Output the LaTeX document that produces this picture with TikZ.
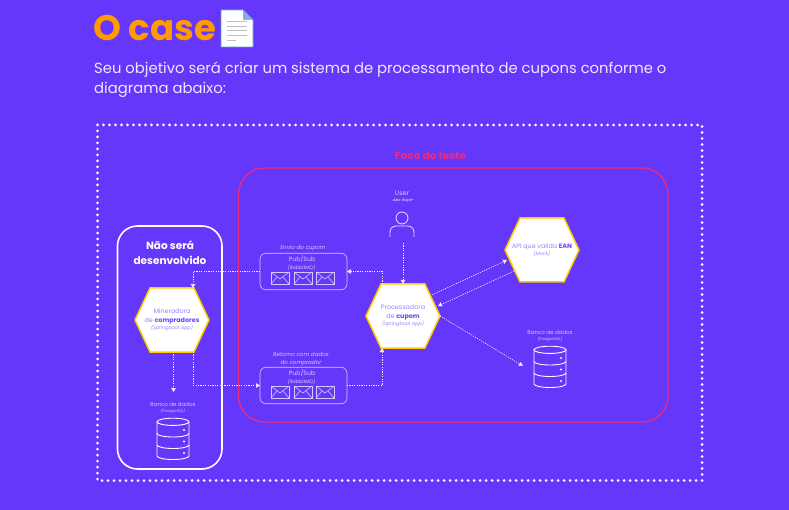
\documentclass[tikz,border=0pt]{standalone}
\usepackage{fontspec}
\setmainfont{Poppins}
\usetikzlibrary{arrows.meta,calc}
\definecolor{bgc}{HTML}{6437FB}
\definecolor{orangec}{HTML}{FF9A00}
\definecolor{pinkc}{HTML}{EE2A7B}
\definecolor{yellowc}{HTML}{FFCC00}
\definecolor{softc}{HTML}{D3C8FF}
\definecolor{hexsoft}{HTML}{9C80FF}
\definecolor{hexbold}{HTML}{6F42FF}
\tikzset{
  hexfill/.style={fill=white,draw=yellowc,line width=1.5pt,line join=miter},
  hextext/.style={minimum width=74pt,minimum height=64pt,inner sep=0pt,outer sep=0pt,align=center,text=hexsoft},
  pubbox/.style={draw=softc,rounded corners=6pt,line width=.6pt,minimum width=87pt,minimum height=36.5pt,inner sep=0pt,outer sep=0pt},
  flow/.style={draw=white!90!bgc,line width=.65pt,dash pattern=on 1.2pt off 1.2pt,-{Triangle[width=4.5pt,length=4pt,sep=0pt]}},
  txt/.style={inner sep=0pt,outer sep=0pt,align=center,text=softc},
  mailic/.style={draw=softc,line width=.6pt},
  dbic/.style={draw=white,line width=.9pt,fill=none},
}
\newcommand{\hexat}[2]{\draw[hexfill] (#1-37,#2) -- (#1-22,#2-32) -- (#1+22,#2-32) -- (#1+37,#2) -- (#1+22,#2+32) -- (#1-22,#2+32) -- cycle;}
\newcommand{\mailat}[2]{%
  \draw[mailic] (#1,#2) rectangle ++(18,12);
  \draw[mailic] (#1,#2) -- ++(9,7) -- ++(9,-7);
  \draw[mailic] (#1,#2+12) -- ++(6,-7);
  \draw[mailic] (#1+18,#2+12) -- ++(-6,-7);
}
\newcommand{\dbat}[2]{%
  \draw[dbic] (#1-16,#2+4) -- (#1-16,#2+38) arc[start angle=180,end angle=360,x radius=16,y radius=-3.5]  -- (#1+16,#2+4);
  \draw[dbic] (#1,#2+3.8) ellipse[x radius=16,y radius=3.6];
  \draw[dbic] (#1-16,#2+15.5) arc[start angle=180,end angle=360,x radius=16,y radius=-3.5];
  \draw[dbic] (#1-16,#2+27) arc[start angle=180,end angle=360,x radius=16,y radius=-3.5];
  \fill[white] (#1+11,#2+12) circle (1.1) (#1+11,#2+23.5) circle (1.1) (#1+11,#2+35) circle (1.1);
}
\begin{document}
\begin{tikzpicture}[x=1pt,y=-1pt]
\fill[bgc] (0,0) rectangle (789,510);
\useasboundingbox (0,0) rectangle (789,510);
% heading
\node[anchor=base west,inner sep=0pt,text=orangec,font=\fontsize{35.5}{36}\selectfont\bfseries] (title) at (93,40.5) {O case};
\node[anchor=base west,inner sep=0pt,text=softc!40!white,font=\fontsize{14.8}{20}\selectfont] (line1) at (94,74) {Seu objetivo será criar um sistema de processamento de cupons conforme o};
\node[anchor=base west,inner sep=0pt,text=softc!40!white,font=\fontsize{14.8}{20}\selectfont] (line2) at (94,94) {diagrama abaixo:};
% document icon
\draw[draw=cyan!50!blue!60!white,fill=white,line width=.9pt] (221,10) -- (243,10) -- (253,20) -- (253,47) -- (221,47) -- cycle;
\fill[cyan!60!blue!50!white] (243,10) -- (253,20) -- (243,20) -- cycle;
\foreach \yy/\xe in {21/247,26/247,30/247,35/247,40/236}{\draw[gray!50,line width=.9pt] (227,\yy) -- (\xe,\yy);}
% frames
\draw[white,line width=3pt,line cap=round,dash pattern=on 0pt off 6pt] (97.5,125) rectangle (702,480.5);
\draw[pinkc,line width=1.3pt,rounded corners=26pt] (238.5,168) rectangle (668,422);
\node[txt,text=pinkc,font=\fontsize{10.5}{10}\selectfont\bfseries] (foco) at (430.5,156) {Foco do teste};
\draw[white,line width=1.6pt,rounded corners=20pt] (117.5,226) rectangle (222,469);
\node[txt,text=white,font=\fontsize{10.5}{15}\selectfont\bfseries] (naosera) at (170,253) {Não será\\desenvolvido};
% pub/sub boxes
\node[pubbox] (pubA) at (303.5,271.5) {};
\node[pubbox] (pubB) at (303.5,385.5) {};
\node[txt,font=\fontsize{5.6}{7}\selectfont\itshape] (envio) at (303,248.5) {Envio do cupom};
\node[txt,font=\fontsize{6.2}{8}\selectfont] (pubAt) at (302,259) {Pub/Sub};
\node[txt,font=\fontsize{4.8}{5}\selectfont\itshape] (pubAs) at (301.5,267.5) {(RabbitMQ)};
\node[txt,font=\fontsize{5.6}{7.5}\selectfont\itshape] (retorno) at (301,359) {Retorno com dados\\do comprador};
\node[txt,font=\fontsize{6.2}{8}\selectfont] (pubBt) at (302,373) {Pub/Sub};
\node[txt,font=\fontsize{4.8}{5}\selectfont\itshape] (pubBs) at (301.5,381.5) {(RabbitMQ)};
\mailat{271}{272}\mailat{294}{272}\mailat{316}{272}
\mailat{271}{386}\mailat{294}{386}\mailat{316}{386}
% hexagons
\hexat{172}{320}
\node[hextext,font=\fontsize{6.4}{8.5}\selectfont] (miner) at (172,320) {Mineradora\\de {\color{hexbold}\bfseries compradores}\\[-1pt]{\fontsize{4.8}{7}\selectfont\itshape (Springboot app)}};
\hexat{403}{316}
\node[hextext,font=\fontsize{6.4}{8.5}\selectfont] (proc) at (403,316) {Processadora\\de {\color{hexbold}\bfseries cupom}\\[-1pt]{\fontsize{4.8}{7}\selectfont\itshape (Springboot app)}};
\hexat{542}{250}
\node[hextext,font=\fontsize{6.4}{8}\selectfont] (api) at (542,250) {API que valida {\color{hexbold}\bfseries EAN}\\[-1pt]{\fontsize{4.8}{6}\selectfont\itshape (Mock)}};
% user
\node[txt,font=\fontsize{6.5}{8}\selectfont] (user) at (402,193) {User};
\node[txt,text=white,font=\fontsize{3.8}{5}\selectfont\itshape] (aka) at (403,200.5) {Aka: Buyer};
\node[circle,draw=white!85!bgc,line width=.8pt,minimum size=12pt,inner sep=0pt] (head) at (402,218) {};
\draw[white!85!bgc,line width=.8pt,rounded corners=6pt] (390,237) -- (390,226) -- (414,226) -- (414,237);
\coordinate (userfoot) at (403,243);
% databases
\node[txt,font=\fontsize{5.5}{7}\selectfont] (dbL) at (173,404) {Banco de dados};
\node[txt,font=\fontsize{3.8}{5}\selectfont\itshape] (dbLs) at (173,411) {(PostgreSQL)};
\dbat{173}{418}
\coordinate (dbLtop) at (173.5,392);
\node[txt,font=\fontsize{5.5}{7}\selectfont] (dbR) at (550,332) {Banco de dados};
\node[txt,font=\fontsize{3.8}{5}\selectfont\itshape] (dbRs) at (550,339) {(PostgreSQL)};
\dbat{550}{346}
\coordinate (dbRend) at (523,366);
% connectors
\coordinate (minTR) at ($(miner.north)+(21,0)$);
\coordinate (minBR) at ($(miner.south)+(21,0)$);
\coordinate (procTL) at ($(proc.north)+(-21,0)$);
\coordinate (procBL) at ($(proc.south)+(-21,0)$);
\draw[flow] (pubA.west) -| (minTR);
\draw[flow] (minBR) |- (pubB.west);
\draw[flow] ($(miner.south)+(1.5,0)$) -- (dbLtop);
\draw[flow] (pubB.east) -| (procBL);
\draw[flow] (procTL) |- (pubA.east);
\draw[flow] (userfoot) -- (userfoot |- proc.north);
\coordinate (pa1) at (432,295); \coordinate (pa2) at (507,260);
\coordinate (ap1) at (514,271); \coordinate (ap2) at (438,306);
\draw[flow] (pa1) -- (pa2);
\draw[flow] (ap1) -- (ap2);
\draw[flow] (proc.east) -- (dbRend);
\end{tikzpicture}
\end{document}
